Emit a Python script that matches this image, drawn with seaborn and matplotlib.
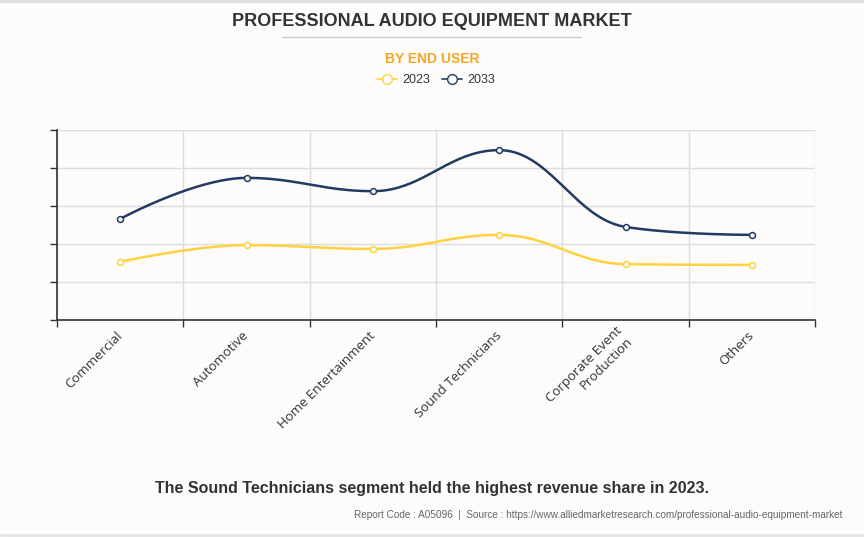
import numpy as np
import pandas as pd
import matplotlib
matplotlib.use("Agg")
import matplotlib.pyplot as plt
from matplotlib.lines import Line2D
import seaborn as sns

categories = ["Commercial", "Automotive", "Home Entertainment", "Sound Technicians",
              "Corporate Event\nProduction", "Others"]
values_2023 = [1.53, 1.97, 1.87, 2.24, 1.47, 1.45]
values_2033 = [2.66, 3.74, 3.39, 4.47, 2.45, 2.24]
series_names = ["2023", "2033"]
colors = {"2023": "#FFD23F", "2033": "#233A63"}

sns.set_theme(style="white")
plt.rcParams['font.family'] = ['Liberation Sans', 'DejaVu Sans']

BG = "#FDFCFB"
fig = plt.figure(figsize=(8.64, 5.37), dpi=100, facecolor=BG)
ax = fig.add_axes([57/864, 1-320/537, (815-57)/864, 190/537])
ax.set_facecolor(BG)


def spline_curve(xs, ys, smoothing=1.5, n=40):
    """Highcharts-style spline rendering through the given points."""
    xs = np.asarray(xs, float); ys = np.asarray(ys, float)
    m = len(xs)
    lc = [(x, y) for x, y in zip(xs, ys)]
    rc = [(x, y) for x, y in zip(xs, ys)]
    denom = smoothing + 1
    for i in range(1, m - 1):
        px, py = xs[i], ys[i]
        lx, ly = xs[i-1], ys[i-1]
        nx, ny = xs[i+1], ys[i+1]
        lcx = (smoothing*px + lx)/denom; lcy = (smoothing*py + ly)/denom
        rcx = (smoothing*px + nx)/denom; rcy = (smoothing*py + ny)/denom
        if rcx != lcx:
            corr = ((rcy - lcy)*(rcx - px))/(rcx - lcx) + py - rcy
            lcy += corr; rcy += corr
            if lcy > ly and lcy > py:
                lcy = max(ly, py); rcy = 2*py - lcy
            elif lcy < ly and lcy < py:
                lcy = min(ly, py); rcy = 2*py - lcy
            if rcy > ny and rcy > py:
                rcy = max(ny, py); lcy = 2*py - rcy
            elif rcy < ny and rcy < py:
                rcy = min(ny, py); lcy = 2*py - rcy
        lc[i] = (lcx, lcy); rc[i] = (rcx, rcy)
    outx, outy = [], []
    t = np.linspace(0, 1, n)
    for i in range(1, m):
        p0 = np.array([xs[i-1], ys[i-1]]); p1 = np.array(rc[i-1])
        p2 = np.array(lc[i]); p3 = np.array([xs[i], ys[i]])
        b = ((1-t)**3)[:, None]*p0 + (3*(1-t)**2*t)[:, None]*p1 + (3*(1-t)*t**2)[:, None]*p2 + (t**3)[:, None]*p3
        if i > 1:
            b = b[1:]
        outx.extend(b[:, 0]); outy.extend(b[:, 1])
    return np.array(outx), np.array(outy)


xpos = np.arange(len(categories))
for name, vals in zip(series_names, [values_2023, values_2033]):
    cx, cy = spline_curve(xpos, vals)
    curve = pd.DataFrame({"x": cx, "y": cy})
    sns.lineplot(data=curve, x="x", y="y", ax=ax, color=colors[name], lw=1.8,
                 sort=False, estimator=None, zorder=3)
    pts = pd.DataFrame({"x": xpos, "y": vals})
    sns.scatterplot(data=pts, x="x", y="y", ax=ax, s=18, facecolor="white",
                    edgecolor=colors[name], linewidth=1.1, zorder=4)

ax.set_xlim(-0.5, len(categories) - 0.5)
ax.set_ylim(0, 5)
ax.set_xlabel(""); ax.set_ylabel("")

# gridlines
ax.set_xticks(np.arange(-0.5, len(categories), 1.0), minor=False)
ax.set_xticklabels([])
ax.set_yticks(np.arange(0, 5.01, 1))
ax.set_yticklabels([])
ax.grid(True, color="#DDDDDD", lw=1)
ax.set_axisbelow(True)
ax.tick_params(axis="both", which="major", length=5, width=1, color="#333333",
               direction="out", bottom=True, left=True)
ax.set_xticks(xpos, minor=True)
ax.set_xticklabels(categories, minor=True, rotation=45, ha="right", va="center",
                   rotation_mode="anchor", fontsize=9.5, color="#333333",
                   family=["Open Sans", "DejaVu Sans"])
ax.tick_params(axis="x", which="minor", length=0, pad=10)
for side in ["top", "right"]:
    ax.spines[side].set_visible(False)
for side in ["left", "bottom"]:
    ax.spines[side].set_color("#333333")
    ax.spines[side].set_linewidth(1.2)

# titles
fig.text(432/864, 1-20/537, "PROFESSIONAL AUDIO EQUIPMENT MARKET", ha="center", va="center_baseline",
         fontsize=13, fontweight="bold", color="#333333")
fig.add_artist(Line2D([282/864, 581/864], [1-37/537, 1-37/537], color="#CCCCCC", lw=1))
fig.text(432/864, 1-59/537, "BY END USER", ha="center", va="center",
         fontsize=10, fontweight="bold", color="#F5A623")

handles = [Line2D([0], [0], color=colors[n], lw=1.2, marker="o", markersize=7,
                  markerfacecolor="white", markeredgecolor=colors[n]) for n in series_names]
fig.legend(handles, series_names, loc="center", bbox_to_anchor=(436/864, 1-80/537), ncol=2,
           frameon=False, fontsize=9, handlelength=1.6, handletextpad=0.4, columnspacing=1.0,
           labelcolor="#333333")

fig.text(432/864, 1-488/537, "The Sound Technicians segment held the highest revenue share in 2023.",
         ha="center", va="center", fontsize=11.5, fontweight="bold", color="#333333")
fig.text(842/864, 1-515/537,
         "Report Code : A05096  |  Source : https://www.alliedmarketresearch.com/professional-audio-equipment-market",
         ha="right", va="center", fontsize=7.2, color="#666666")
fig.add_artist(Line2D([0, 1], [1-0.5/537, 1-0.5/537], color="#DDDDDD", lw=2))
fig.add_artist(Line2D([0, 1], [1-535/537, 1-535/537], color="#E5E5E5", lw=2))

fig.savefig("out.png", dpi=100, facecolor=BG)
